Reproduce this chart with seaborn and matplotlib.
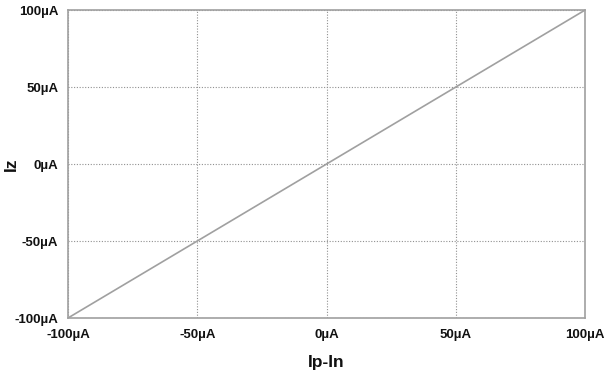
import matplotlib
matplotlib.use("Agg")
import matplotlib.pyplot as plt
import seaborn as sns
import pandas as pd

ip_in = [-100, 100]
iz = [-100, 100]
ticks = [-100, -50, 0, 50, 100]
tick_labels = ["-100µA", "-50µA", "0µA", "50µA", "100µA"]

sns.set_style("white")
plt.rcParams['font.family'] = ['Liberation Sans', 'DejaVu Sans']

fig = plt.figure(figsize=(6.07, 3.85), dpi=100)
ax = fig.add_axes([0.112, 0.174, 0.852, 0.80])
df = pd.DataFrame({"x": ip_in, "y": iz})
sns.lineplot(data=df, x="x", y="y", ax=ax, color="#a0a0a0", linewidth=1.2)
ax.set_xlim(-100, 100)
ax.set_ylim(-100, 100)
ax.set_xticks(ticks)
ax.set_yticks(ticks)
ax.set_xticklabels(tick_labels, fontsize=9.5, fontweight="bold")
ax.set_yticklabels(tick_labels, fontsize=9.5, fontweight="bold")
ax.grid(True, linestyle=(0, (1, 1.5)), color="#909090", linewidth=0.8)
for s in ax.spines.values():
    s.set_color("#a0a0a0")
    s.set_linewidth(1.2)
ax.tick_params(axis="both", direction="out", length=6, width=1, color="#a0a0a0", pad=1, labelcolor="#111111")
ax.tick_params(axis="x", pad=2)
ax.set_xlabel("Ip-In", fontsize=12.5, fontweight="bold", labelpad=10, color="#111111")
ax.set_ylabel("Iz", fontsize=12.5, fontweight="bold", color="#111111")
ax.yaxis.set_label_coords(-0.094, 0.5)
fig.savefig("out.png", dpi=100)
